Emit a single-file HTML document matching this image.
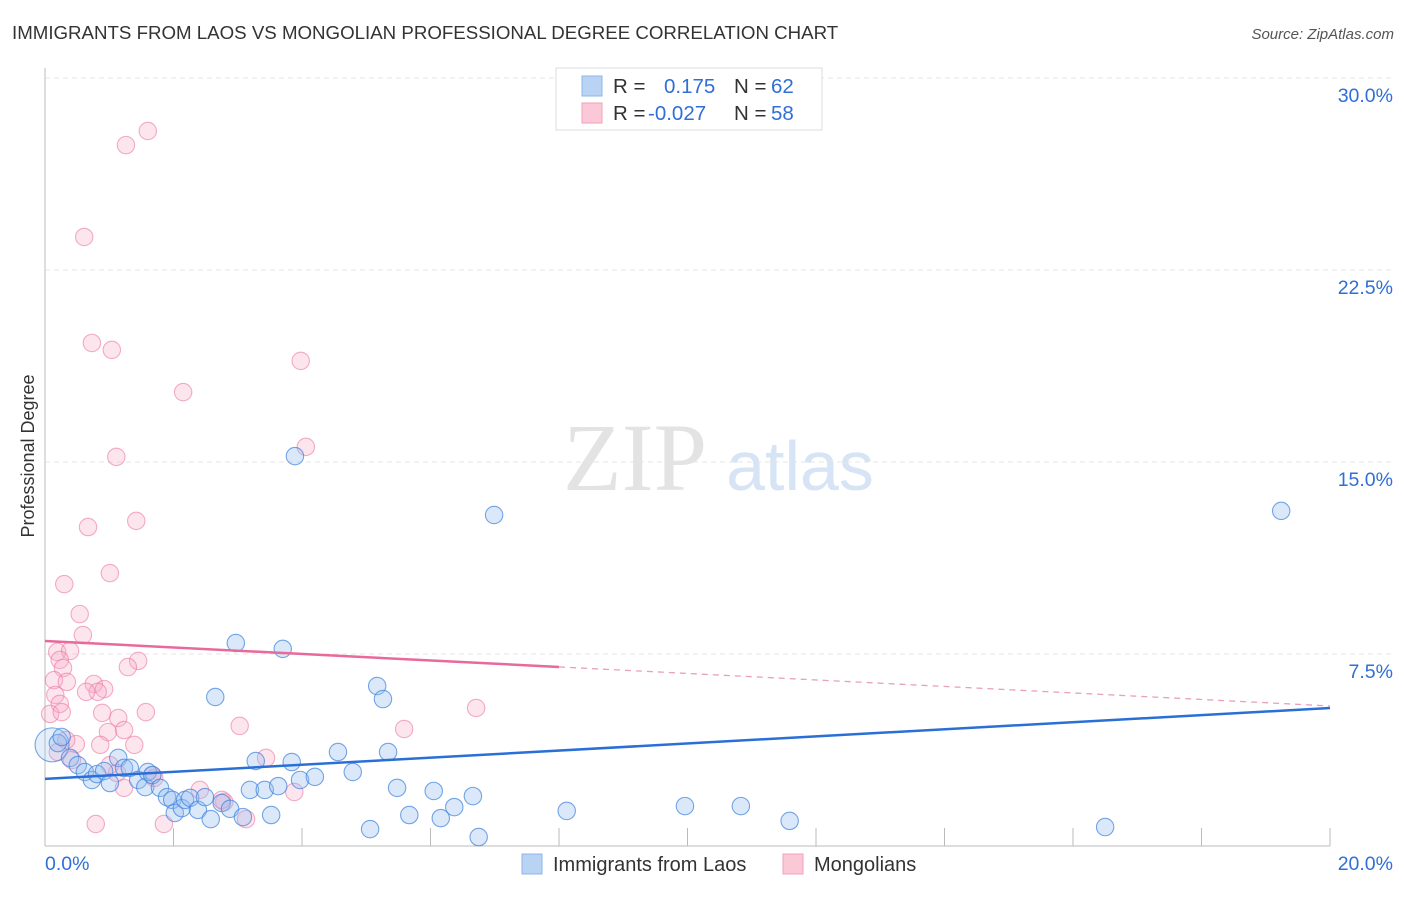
<!DOCTYPE html>
<html><head><meta charset="utf-8"><style>
body{margin:0;background:#fff;font-family:"Liberation Sans",sans-serif;}
</style></head><body>
<svg id="c" width="1406" height="892" xmlns="http://www.w3.org/2000/svg">
<text x="12" y="39" font-size="18.7" fill="#333">IMMIGRANTS FROM LAOS VS MONGOLIAN PROFESSIONAL DEGREE CORRELATION CHART</text>
<text x="1394" y="39" font-size="15" fill="#555" font-style="italic" text-anchor="end">Source: ZipAtlas.com</text>
<text x="34" y="456" font-size="18" fill="#333" text-anchor="middle" transform="rotate(-90 34 456)">Professional Degree</text>
<g><text x="635" y="490" font-size="96" fill="#e3e3e3" font-family="Liberation Serif,serif" text-anchor="middle">ZIP</text><text x="800" y="490" font-size="70" fill="#d6e4f5" text-anchor="middle">atlas</text></g>
<g id="grid"></g><g id="marks"></g>
<g>
<rect x="556" y="68" width="266" height="62" fill="#fff" stroke="#ddd"/>
<rect x="582" y="76" width="20" height="20" fill="#b9d3f5" stroke="#8fb4e8"/>
<rect x="582" y="103" width="20" height="20" fill="#fbc8d8" stroke="#f0a0bb"/>
<text y="93" font-size="20.5" fill="#333"><tspan x="613">R =</tspan><tspan x="664" fill="#2f6fd6">0.175</tspan><tspan x="734">N =</tspan><tspan x="771" fill="#2f6fd6">62</tspan></text>
<text y="120" font-size="20.5" fill="#333"><tspan x="613">R =</tspan><tspan x="648" fill="#2f6fd6">-0.027</tspan><tspan x="734">N =</tspan><tspan x="771" fill="#2f6fd6">58</tspan></text>
</g>
<g>
<rect x="522" y="854" width="20" height="20" fill="#b9d3f5" stroke="#8fb4e8"/>
<text x="553" y="871" font-size="20" fill="#333">Immigrants from Laos</text>
<rect x="783" y="854" width="20" height="20" fill="#fbc8d8" stroke="#f0a0bb"/>
<text x="814" y="871" font-size="20" fill="#333">Mongolians</text>
</g>
</svg>
<script>
const blueX=[0.11,0.20,0.26,0.39,0.51,0.62,0.73,0.81,0.92,1.01,1.14,1.23,1.32,1.45,1.56,1.60,1.67,1.79,1.90,1.98,2.02,2.13,2.18,2.26,2.38,2.49,2.58,2.65,2.75,2.88,2.97,3.08,3.19,3.28,3.42,3.52,3.63,3.70,3.84,3.89,3.97,4.20,4.56,4.79,5.06,5.17,5.26,5.34,5.48,5.67,6.05,6.16,6.37,6.66,6.75,6.99,8.12,9.96,10.83,11.59,16.50,19.24];
const blueY=[3.95,4.02,4.26,3.44,3.16,2.89,2.58,2.81,2.93,2.46,3.44,3.05,3.05,2.58,2.30,2.89,2.77,2.27,1.91,1.80,1.29,1.48,1.80,1.88,1.41,1.91,1.05,5.82,1.68,1.45,7.93,1.13,2.19,3.32,2.19,1.21,2.34,7.70,3.28,15.23,2.58,2.70,3.67,2.89,0.66,6.25,5.74,3.67,2.27,1.21,2.15,1.09,1.52,1.95,0.35,12.93,1.37,1.56,1.56,0.98,0.74,13.09];
const pinkX=[1.60,1.26,0.61,0.73,1.04,3.98,2.15,4.06,1.11,1.42,0.67,1.01,0.30,0.54,0.59,0.19,0.39,0.23,0.28,1.45,1.29,0.14,0.34,0.76,0.92,0.16,0.82,0.64,0.23,0.08,0.89,1.57,1.14,3.03,5.59,6.71,0.98,1.23,0.86,1.39,0.48,0.20,0.42,3.44,1.12,1.67,1.70,2.41,2.79,1.23,0.79,1.85,3.13,3.88,0.26,0.33,2.75,1.01];
const pinkY=[27.93,27.38,23.79,19.65,19.38,18.95,17.73,15.59,15.20,12.70,12.46,10.66,10.23,9.06,8.24,7.58,7.62,7.27,6.95,7.23,6.99,6.48,6.41,6.33,6.13,5.90,6.02,6.02,5.55,5.16,5.20,5.23,5.00,4.69,4.57,5.39,4.45,4.53,3.95,3.95,3.98,3.67,3.36,3.44,2.85,2.77,2.66,2.19,1.72,2.27,0.86,0.86,1.05,2.11,5.23,4.14,1.80,3.16];
const blueTrend=[2.62,5.39];
const pinkTrend=[8.01,5.47];
const yTicks=[7.5,15,22.5,30];
const yTickLabels=["7.5%","15.0%","22.5%","30.0%"];
const xTicks=[0,2,4,6,8,10,12,14,16,18,20];

const NS="http://www.w3.org/2000/svg";
const sx=v=>45+v/20*1285, sy=v=>846-v*25.6;
function mk(t,a,p){const e=document.createElementNS(NS,t);for(const k in a)e.setAttribute(k,a[k]);p.appendChild(e);return e;}
const g=document.getElementById('grid'), m=document.getElementById('marks');
yTicks.forEach((t,i)=>{
 const l=mk('line',{x1:45,x2:1392,y1:sy(t),y2:sy(t),stroke:'#e4e4e4','stroke-dasharray':'5,4'},g);
 
 
 const tx=mk('text',{x:1393,y:sy(t)+24,'font-size':19.5,fill:'#2f6fd6','text-anchor':'end'},g);
 tx.textContent=yTickLabels[i];
 
 
});
mk('line',{x1:45,x2:45,y1:68,y2:846,stroke:'#bbb'},g);
mk('line',{x1:45,x2:1330,y1:846,y2:846,stroke:'#bbb'},g);
xTicks.forEach(t=>{const l=mk('line',{x1:sx(t),x2:sx(t),y1:828,y2:846,stroke:'#bbb'},g);
 
 });
const x0=mk('text',{x:45,y:870,'font-size':19.5,fill:'#2f6fd6'},g);x0.textContent='0.0%';


const x1=mk('text',{x:1393,y:870,'font-size':19.5,fill:'#2f6fd6','text-anchor':'end'},g);x1.textContent='20.0%';


pinkX.forEach((x,i)=>{const c=mk('circle',{cx:sx(x),cy:sy(pinkY[i]),r:8.7,fill:'rgba(248,170,198,0.3)',stroke:'rgba(235,120,160,0.6)','stroke-width':1.1},m);
 
 });
blueX.forEach((x,i)=>{const c=mk('circle',{cx:sx(x),cy:sy(blueY[i]),r:i==0?17:8.7,fill:i==0?'rgba(150,190,240,0.25)':'rgba(150,190,240,0.35)',stroke:'rgba(60,130,220,0.7)','stroke-width':1.1},m);
 
 });
const bl=mk('line',{x1:sx(0),y1:sy(blueTrend[0]),x2:sx(20),y2:sy(blueTrend[1]),stroke:'#2a6fd6','stroke-width':2.5},m);


const pm=pinkTrend[0]+(pinkTrend[1]-pinkTrend[0])*0.4;
const pl=mk('line',{x1:sx(0),y1:sy(pinkTrend[0]),x2:sx(8),y2:sy(pm),stroke:'#e8699a','stroke-width':2.5},m);


const pd=mk('line',{x1:sx(8),y1:sy(pm),x2:sx(20),y2:sy(pinkTrend[1]),stroke:'#e8a0bc','stroke-width':1.3,'stroke-dasharray':'6,5'},m);


</script>
</body></html>
